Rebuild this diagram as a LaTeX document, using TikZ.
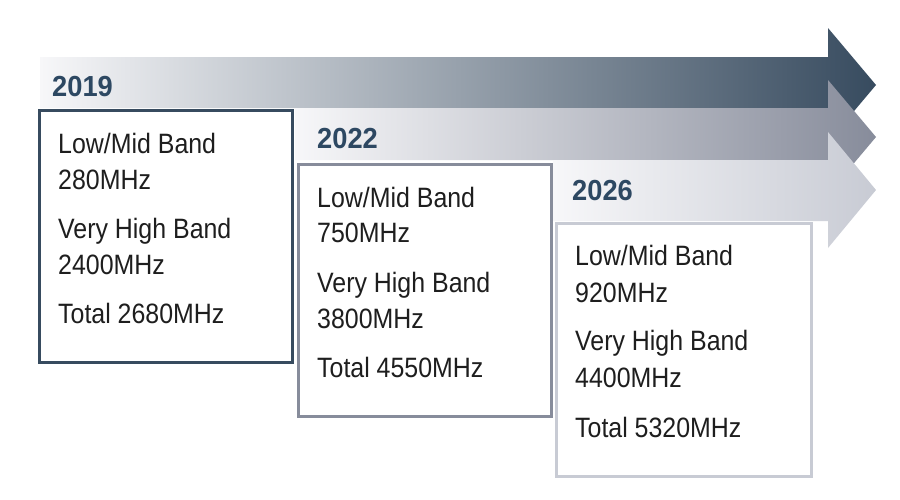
\documentclass[tikz,border=0pt]{standalone}
\usepackage{fontspec}
\setmainfont{Liberation Sans}[FakeStretch=0.89]
\newfontfamily\yearfont{Liberation Sans}[FakeStretch=0.94]

\definecolor{slate}{HTML}{2D4862}
\definecolor{arrdark}{HTML}{374B5F}
\definecolor{arrmid}{HTML}{878C9B}
\definecolor{arrlight}{HTML}{C8CBD4}
\definecolor{fade}{HTML}{F7F7F9}
\definecolor{txtgray}{HTML}{1E1E1E}

\begin{document}
\begin{tikzpicture}
    [x=1pt,y=-1pt,
     card/.style={draw,line width=3pt,fill=white,inner sep=0pt,
                  minimum width=253pt,minimum height=252pt},
     txt/.style={anchor=base west,inner sep=0pt,text=txtgray,
                 font=\fontsize{28}{30}\selectfont},
     yr/.style={anchor=base west,inner sep=0pt,text=slate,
                font=\yearfont\bfseries\fontsize{29}{30}\selectfont}]

    \useasboundingbox (0,0) rectangle (900,499);

    % arrows, back to front:
    \shade [left color=fade,right color=arrdark]
      (40,57) -- (828,57) -- (828,28) -- (876,85) -- (828,142)
      -- (828,108) -- (40,108) -- cycle;
    \shade [left color=fade,right color=arrmid]
      (295,108) -- (828,108) -- (828,80) -- (876,137) -- (828,194)
      -- (828,160) -- (295,160) -- cycle;
    \shade [left color=fade,right color=arrlight]
      (553,160) -- (828,160) -- (828,132) -- (876,190) -- (828,248)
      -- (828,221) -- (553,221) -- cycle;

    % years:
    \node (y19) at (52,96) [yr] {2019};
    \node (y22) at (317,148) [yr] {2022};
    \node (y26) at (572,200) [yr] {2026};

    % boxes:
    \node (box19) at (165.5,236) [card,draw=arrdark] {};
    \node (box22) at (424.5,290) [card,draw=arrmid] {};
    \node (box26) at (683.5,349.5) [card,draw=arrlight,minimum width=255pt,minimum height=253pt] {};

    % 2019 figures:
    \node (lm19) at (58,153) [txt] {Low/Mid Band};
    \node (lmv19) at (58,189) [txt] {280MHz};
    \node (vh19) at (58,238) [txt] {Very High Band};
    \node (vhv19) at (58,274) [txt] {2400MHz};
    \node (tot19) at (58,323) [txt] {Total 2680MHz};

    % 2022 figures:
    \node (lm22) at (317,207) [txt] {Low/Mid Band};
    \node (lmv22) at (317,242) [txt] {750MHz};
    \node (vh22) at (317,292) [txt] {Very High Band};
    \node (vhv22) at (317,328) [txt] {3800MHz};
    \node (tot22) at (317,377) [txt] {Total 4550MHz};

    % 2026 figures:
    \node (lm26) at (575,265) [txt] {Low/Mid Band};
    \node (lmv26) at (575,302) [txt] {920MHz};
    \node (vh26) at (575,350) [txt] {Very High Band};
    \node (vhv26) at (575,387) [txt] {4400MHz};
    \node (tot26) at (575,437) [txt] {Total 5320MHz};

  \end{tikzpicture}
\end{document}
